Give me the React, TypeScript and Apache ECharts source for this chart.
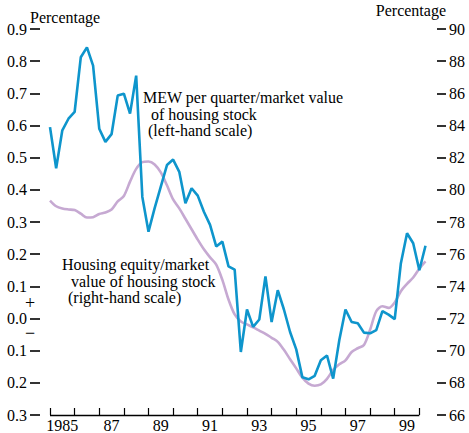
import React, { useEffect, useRef } from "react";
import * as echarts from "echarts";

const FONT = "'Liberation Serif', 'Times New Roman', serif";

// Quarterly observations, 1985Q1 .. 2000Q2
const startYear = 1985;
const endYear = 2000;
const quarters: string[] = [];
for (let y = 1985; y <= 2000; y++) for (let q = 1; q <= 4; q++) quarters.push(`${y}Q${q}`);

// MEW per quarter / market value of housing stock (left-hand scale, percent)
const mewShare = [
  0.595, 0.467, 0.585, 0.621, 0.642, 0.812, 0.843, 0.786,
  0.590, 0.549, 0.573, 0.693, 0.699, 0.637, 0.755, 0.378,
  0.270, 0.343, 0.410, 0.477, 0.494, 0.456, 0.358, 0.405,
  0.382, 0.332, 0.291, 0.224, 0.239, 0.162, 0.152, -0.104,
  0.028, -0.026, -0.003, 0.131, -0.011, 0.088, 0.028, -0.042,
  -0.096, -0.183, -0.189, -0.178, -0.130, -0.115, -0.187, -0.067,
  0.028, -0.011, -0.015, -0.044, -0.046, -0.036, 0.023, 0.012,
  -0.002, 0.172, 0.265, 0.234, 0.150, 0.226,
];

// Housing equity / market value of housing stock (right-hand scale, percent)
const equityShare = [
  79.33, 78.98, 78.84, 78.78, 78.74, 78.52, 78.28, 78.30,
  78.50, 78.59, 78.78, 79.28, 79.62, 80.51, 81.30, 81.72,
  81.76, 81.58, 81.08, 80.28, 79.40, 78.85, 78.20, 77.55,
  76.90, 76.30, 75.80, 75.35, 74.40, 73.18, 72.25, 71.82,
  71.63, 71.45, 71.25, 71.05, 70.80, 70.55, 70.05, 69.47,
  68.90, 68.32, 67.95, 67.82, 67.90, 68.25, 68.80, 69.15,
  69.40, 69.92, 70.15, 70.35, 71.30, 72.45, 72.76, 72.66,
  73.00, 73.70, 74.15, 74.55, 75.10, 75.55,
];

const yearLabels = ["1985", "86", "87", "88", "89", "90", "91", "92", "93", "94", "95", "96", "97", "98", "99"];
const labelledYears = [1985, 1987, 1989, 1991, 1993, 1995, 1997, 1999];
const tickYears = [1985, 1986, 1987, 1988, 1989, 1990, 1991, 1992, 1993, 1994, 1995, 1996, 1997, 1998, 1999, 2000];

const quarterToX = (label: string) => {
  const y = parseInt(label.slice(0, 4), 10);
  const q = parseInt(label.slice(5), 10);
  return y + (q - 1) / 4;
};

export default function App() {
  const ref = useRef<HTMLDivElement>(null);
  useEffect(() => {
    if (!ref.current) return;
    const chart = echarts.init(ref.current, null, { renderer: "svg" });
    const txt = (text: string, x: number, y: number, align = "left", size = 16) => ({
      type: "text",
      x,
      y,
      style: { text, fill: "#000", font: `${size}px ${FONT}`, textAlign: align, textVerticalAlign: "middle" },
    });
    chart.setOption({
      animation: false,
      backgroundColor: "#fff",
      grid: { left: 50, right: 43.5, top: 29, bottom: 17, containLabel: false },
      xAxis: {
        type: "value",
        min: startYear,
        max: endYear + 0.25,
        axisLine: { show: false, onZero: false },
        axisTick: {
          show: true,
          inside: true,
          length: 7,
          customValues: tickYears,
          lineStyle: { color: "#000", width: 1.2 },
        },
        axisLabel: {
          show: true,
          customValues: labelledYears.map((y) => y + 0.5),
          formatter: (v: number) => yearLabels[Math.floor(v) - startYear],
          color: "#000",
          fontFamily: FONT,
          fontSize: 16,
          margin: 2,
        },
        splitLine: { show: false },
      },
      yAxis: [
        {
          type: "value",
          position: "left",
          min: -0.3,
          max: 0.9,
          interval: 0.1,
          offset: 10,
          axisLine: { show: false, onZero: false },
          axisTick: { show: true, length: 10, lineStyle: { color: "#000", width: 1.6 } },
          axisLabel: {
            formatter: (v: number) => Math.abs(v).toFixed(1),
            color: "#000",
            fontFamily: FONT,
            fontSize: 16,
            margin: 13,
          },
          splitLine: { show: false },
        },
        {
          type: "value",
          position: "right",
          min: 66,
          max: 90,
          interval: 2,
          offset: 11.5,
          axisLine: { show: false, onZero: false },
          axisTick: { show: true, length: 9, lineStyle: { color: "#000", width: 1.6 } },
          axisLabel: { color: "#000", fontFamily: FONT, fontSize: 16, margin: 12 },
          splitLine: { show: false },
        },
      ],
      series: [
        {
          name: "Housing equity/market value of housing stock",
          type: "line",
          yAxisIndex: 1,
          data: equityShare.map((v, i) => [quarterToX(quarters[i]), v]),
          showSymbol: false,
          smooth: 0.3,
          lineStyle: { color: "#C6A9D2", width: 2.6 },
          z: 2,
        },
        {
          name: "MEW per quarter/market value of housing stock",
          type: "line",
          yAxisIndex: 0,
          data: mewShare.map((v, i) => [quarterToX(quarters[i]), v]),
          showSymbol: false,
          lineStyle: { color: "#0E95CC", width: 2.6 },
          z: 3,
          markLine: {
            silent: true,
            symbol: "none",
            label: { show: false },
            lineStyle: { color: "#000", width: 1.3, type: "solid" },
            data: [
              [{ coord: [startYear - 0.03, 0] }, { coord: [endYear + 0.15, 0] }],
              [{ coord: [startYear, -0.3] }, { coord: [endYear, -0.3] }],
            ],
          },
        },
      ],
      graphic: [
        txt("Percentage", 30, 17),
        txt("Percentage", 446, 10, "right"),
        txt("MEW per quarter/market value", 143, 97),
        txt("of housing stock", 151, 114),
        txt("(left-hand scale)", 148, 130),
        txt("Housing equity/market", 62, 264),
        txt("value of housing stock", 71, 281),
        txt("(right-hand scale)", 68, 297),
        txt("+", 30, 303, "center", 18),
        txt("\u2212", 30, 333, "center", 18),
      ],
    });
    return () => chart.dispose();
  }, []);
  return <div ref={ref} style={{ position: "fixed", left: 0, top: 0, width: 469, height: 433 }} />;
}
